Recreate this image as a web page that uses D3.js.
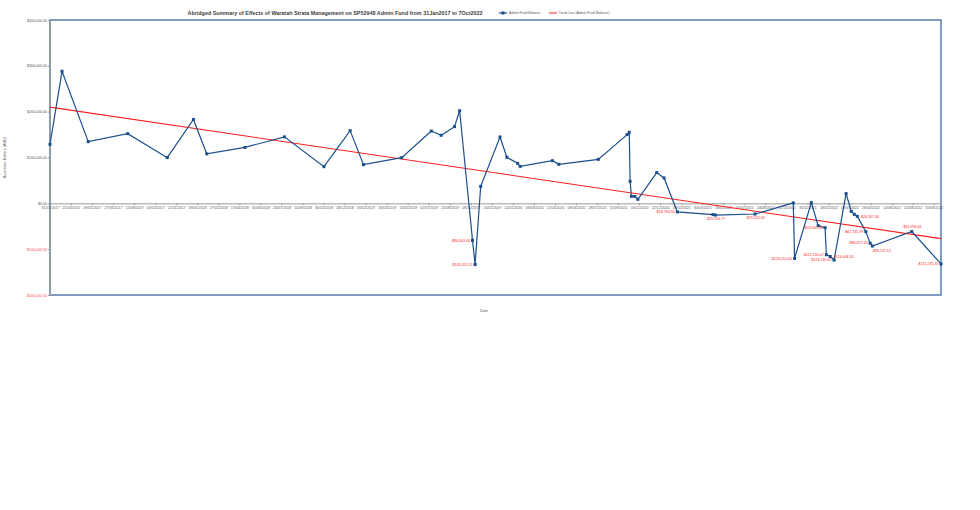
<!DOCTYPE html>
<html><head><meta charset="utf-8">
<script src="https://cdn.jsdelivr.net/npm/d3@7"></script>
<style>html,body{margin:0;padding:0;background:#fff;}svg{display:block;font-family:"Liberation Sans",Arial,sans-serif;}</style>
</head><body><svg id="c" width="980" height="510"></svg>
<script>
const dates = ["2017-01-31","2017-02-28","2017-04-30","2017-07-31","2017-10-31","2017-12-31","2018-01-31","2018-04-30","2018-07-31","2018-10-31","2018-12-31","2019-01-31","2019-04-30","2019-07-08","2019-07-31","2019-08-31","2019-09-12","2019-10-12","2019-10-18","2019-10-31","2019-12-15","2019-12-31","2020-01-25","2020-01-31","2020-04-15","2020-04-30","2020-07-31","2020-10-06","2020-10-11","2020-10-13","2020-10-16","2020-10-24","2020-10-31","2020-12-14","2020-12-31","2021-01-31","2021-04-24","2021-04-30","2021-07-31","2021-10-28","2021-10-31","2021-12-09","2021-12-25","2022-01-10","2022-01-13","2022-01-22","2022-01-31","2022-02-28","2022-03-12","2022-03-19","2022-03-26","2022-04-15","2022-04-25","2022-04-30","2022-07-31","2022-10-07"];
const balances = [128700,288000,134600,152000,99700,183000,108000,122000,145000,80000,158600,84400,99700,157800,148400,167300,202000,-80803.34,-133452.25,37000,144700,100400,87300,80700,93100,85100,96000,150000,155000,48000,15300,15000,8700,67000,55300,-18764.90,-24700,-25556.77,-23323.34,1000,-120210.60,1500,-48700,-53060.08,-112130.07,-116008.34,-123760.65,21200,-17500,-24000,-28267.34,-61745.99,-86877.20,-93147.13,-61398.46,-132235.35];
// data label placement per point: l=left, r=right, b=below, br=below-right, t=above, ""=none
const labelPos = ["","","","","","","","","","","","","","","","","","l","l","","","","","","","","","","","","","","","","","l","","b","b","","l","","","l","l","r","l","","","","r","l","l","br","t","l"];
const trendDates = ["2017-01-31","2022-10-07"];
const trendValues = [210000,-77000];
const xTickLabels = ["31/01/2017","21/03/2017","09/05/2017","27/06/2017","15/08/2017","03/10/2017","21/11/2017","09/01/2018","27/02/2018","17/04/2018","05/06/2018","24/07/2018","11/09/2018","30/10/2018","18/12/2018","05/02/2019","26/03/2019","14/05/2019","02/07/2019","20/08/2019","08/10/2019","26/11/2019","14/01/2020","03/03/2020","21/04/2020","09/06/2020","28/07/2020","15/09/2020","03/11/2020","22/12/2020","09/02/2021","30/03/2021","18/05/2021","06/07/2021","24/08/2021","12/10/2021","30/11/2021","18/01/2022","08/03/2022","26/04/2022","14/06/2022","02/08/2022","20/09/2022"];
const yTicks = [400000,300000,200000,100000,0,-100000,-200000];
const titleText = "Abridged Summary of Effects of Waratah Strata Management on SP52948 Admin Fund from 31Jan2017 to 7Oct2022";
const seriesNames = ["Admin Fund Balance","Trend Line (Admin Fund Balance)"];

const svg = d3.select("#c");
const pIso = d3.utcParse("%Y-%m-%d");
const pDmy = d3.utcParse("%d/%m/%Y");
const L=50,R=941,T=20,B=295;
const x = d3.scaleUtc().domain([pIso("2017-01-31"), pIso("2022-10-07")]).range([L,R]);
const y = d3.scaleLinear().domain([-200000,400000]).range([B,T]);
const money = v => (v<0?"-$":"$") + d3.format(",.2f")(Math.abs(v));
const blue="#1a4f8b", red="#ff1f1f", gray="#9a9a9a", txt="#595959";

// frame
svg.append("rect").attr("x",L).attr("y",T).attr("width",R-L).attr("height",B-T).attr("fill","none").attr("stroke","#2a5b9a").attr("stroke-width",1.2);
// y axis
const ya = svg.append("g").attr("transform",`translate(${L},0)`).call(d3.axisLeft(y).tickValues(yTicks).tickSize(2).tickFormat(money));
ya.select(".domain").attr("stroke",gray).attr("stroke-width",1);
ya.selectAll(".tick line").attr("stroke",gray);
ya.selectAll("text").attr("font-size",3.6).attr("fill",d=>d<0?"#ff5050":txt).attr("x",-3);
// x axis at zero
const xa = svg.append("g").attr("transform",`translate(0,${y(0)})`).call(d3.axisBottom(x).tickValues(xTickLabels.map(pDmy)).tickSize(2).tickFormat((d,i)=>xTickLabels[i]));
xa.select(".domain").attr("stroke",gray).attr("stroke-width",1);
xa.selectAll(".tick line").attr("stroke",gray);
xa.selectAll("text").attr("font-size",3.6).attr("fill",txt).attr("dy","0.2em");

// trend line
svg.append("line").attr("x1",x(pIso(trendDates[0]))).attr("y1",y(trendValues[0])).attr("x2",x(pIso(trendDates[1]))).attr("y2",y(trendValues[1])).attr("stroke",red).attr("stroke-width",1.1);

// series
const pts = dates.map((d,i)=>({d:pIso(d),v:balances[i],lp:labelPos[i]}));
svg.append("path").datum(pts).attr("fill","none").attr("stroke",blue).attr("stroke-width",1.2).attr("d",d3.line().x(p=>x(p.d)).y(p=>y(p.v)));
svg.append("g").selectAll("rect").data(pts).join("rect").attr("x",p=>x(p.d)-1.5).attr("y",p=>y(p.v)-1.5).attr("width",3).attr("height",3).attr("fill",blue);
// labels
const lab = svg.append("g").attr("font-size",3.6).attr("fill",red);
pts.filter(p=>p.lp).forEach(p=>{
  const px=x(p.d), py=y(p.v); let tx=px, ty=py+1.3, anchor="end";
  if(p.lp==="l"){tx=px-2.5;}
  else if(p.lp==="r"){tx=px+2.5;anchor="start";}
  else if(p.lp==="b"){anchor="middle";ty=py+5;}
  else if(p.lp==="br"){anchor="middle";tx=px+9;ty=py+5.5;}
  else if(p.lp==="t"){anchor="middle";ty=py-3;}
  lab.append("text").attr("x",tx).attr("y",ty).attr("text-anchor",anchor).text(money(p.v));
});

// title
svg.append("text").attr("x",335).attr("y",15).attr("text-anchor","middle").attr("font-size",5.4).attr("font-weight","bold").attr("fill","#404040").text(titleText);
// legend
const lg = svg.append("g").attr("font-size",3.4).attr("fill",txt);
lg.append("line").attr("x1",499).attr("x2",507).attr("y1",13).attr("y2",13).attr("stroke",blue).attr("stroke-width",1.2);
lg.append("rect").attr("x",501.5).attr("y",11.5).attr("width",3).attr("height",3).attr("fill",blue);
lg.append("text").attr("x",509).attr("y",14.2).text(seriesNames[0]);
lg.append("line").attr("x1",549).attr("x2",557).attr("y1",13).attr("y2",13).attr("stroke",red).attr("stroke-width",1);
lg.append("text").attr("x",558.5).attr("y",14.2).text(seriesNames[1]);
// axis titles
svg.append("text").attr("x",484).attr("y",312).attr("text-anchor","middle").attr("font-size",3.8).attr("fill",txt).text("Date");
svg.append("text").attr("transform",`translate(6,${(T+B)/2}) rotate(-90)`).attr("text-anchor","middle").attr("font-size",3.8).attr("fill",txt).text("Australian Dollars (AUD)");
</script></body></html>
